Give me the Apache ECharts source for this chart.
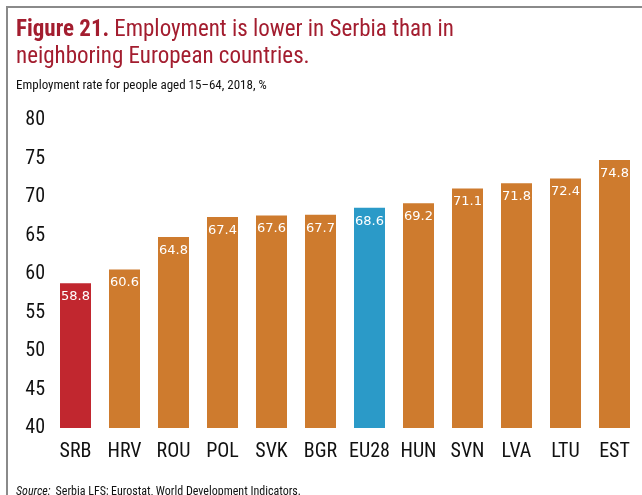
<!DOCTYPE html>
<html>
<head>
<meta charset="utf-8">
<script src="https://cdn.jsdelivr.net/npm/echarts@6/dist/echarts.min.js"></script>
<style>
  html, body { margin: 0; padding: 0; background: #fff; }
  #frame { position: absolute; left: 6px; top: 6px; width: 636px; height: 489px;
           border-left: 2px solid #8a8a8a; border-top: 2px solid #8a8a8a; box-sizing: border-box; }
  #chart { position: absolute; left: 0; top: 0; width: 642px; height: 495px; }
</style>
</head>
<body>
<div id="frame"></div>
<div id="chart"></div>
<script>
var countries = ['SRB', 'HRV', 'ROU', 'POL', 'SVK', 'BGR', 'EU28', 'HUN', 'SVN', 'LVA', 'LTU', 'EST'];
var employment = [58.8, 60.6, 64.8, 67.4, 67.6, 67.7, 68.6, 69.2, 71.1, 71.8, 72.4, 74.8];
var yTicks = [40, 45, 50, 55, 60, 65, 70, 75, 80];

var fontMain = '"Liberation Sans Narrow", "Roboto Condensed", "Open Sans", sans-serif';

function barColor(name) {
    if (name === 'SRB') return '#c1272f';
    if (name === 'EU28') return '#2b9ac8';
    return '#ce7b2e';
}

var chart = echarts.init(document.getElementById('chart'));

var data = [];
for (var i = 0; i < countries.length; i++) {
    data.push({ value: employment[i], itemStyle: { color: barColor(countries[i]) } });
}

option = {
    animation: false,
    title: [{
        left: 11,
        top: 12,
        text: '{b|Figure 21.} {n|Employment is lower in Serbia than in}\n{n|neighboring European countries.}',
        textStyle: {
            fontWeight: 'normal',
            rich: {
                b: { fontFamily: fontMain, fontWeight: 'bold', fontSize: 23, color: '#a31d2f', lineHeight: 27 },
                n: { fontFamily: fontMain, fontWeight: 'normal', fontSize: 23, color: '#a31d2f', lineHeight: 27 }
            }
        }
    }, {
        left: 11,
        top: 74,
        text: 'Employment rate for people aged 15\u201364, 2018, %',
        textStyle: { fontFamily: fontMain, fontSize: 13, fontWeight: 'normal', color: '#111' }
    }, {
        left: 11,
        top: 478,
        text: '{i|Source:} {n|Serbia LFS; Eurostat, World Development Indicators.}',
        textStyle: {
            fontWeight: 'normal',
            rich: {
                i: { fontFamily: fontMain, fontStyle: 'italic', fontWeight: 'normal', fontSize: 12, color: '#111' },
                n: { fontFamily: fontMain, fontWeight: 'normal', fontSize: 12, color: '#111' }
            }
        }
    }],
    grid: { left: 51, right: 3, top: 120, bottom: 67 },
    xAxis: {
        type: 'category',
        data: countries,
        axisLine: { show: false },
        axisTick: { show: false },
        axisLabel: { fontFamily: fontMain, fontSize: 20, color: '#111', margin: 14, interval: 0 }
    },
    yAxis: {
        type: 'value',
        min: 40,
        max: 80,
        interval: 5,
        splitLine: { show: false },
        axisLine: { show: false },
        axisTick: { show: false },
        axisLabel: {
            fontFamily: fontMain, fontSize: 20, color: '#111', margin: 6,
            formatter: function (v) { return yTicks.indexOf(v) >= 0 ? String(v) : ''; }
        }
    },
    series: [{
        type: 'bar',
        data: data,
        barWidth: 31,
        label: {
            show: true,
            position: 'insideTop',
            distance: 7,
            color: '#fff',
            fontFamily: '"DejaVu Sans", sans-serif',
            fontSize: 13,
            formatter: function (p) { return p.value.toFixed(1); }
        }
    }]
};
chart.setOption(option);
</script>
</body>
</html>
